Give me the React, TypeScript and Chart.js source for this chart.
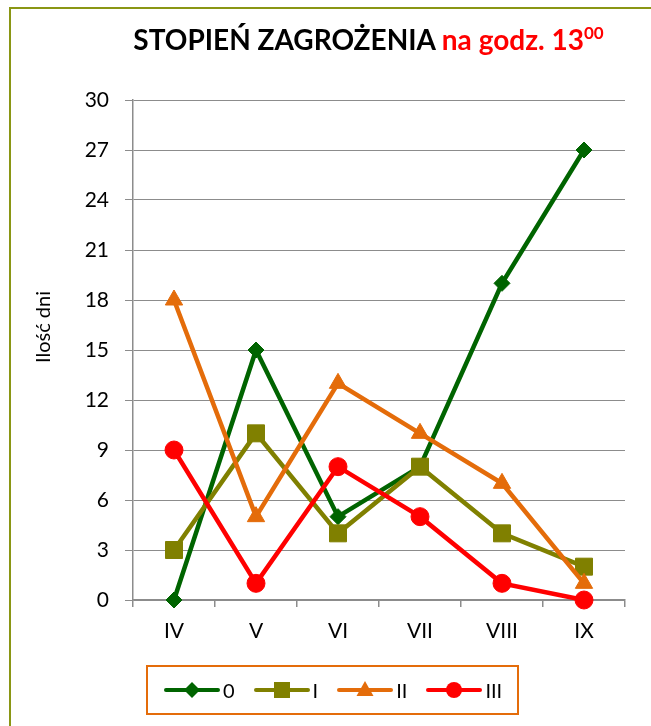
import React, { useEffect, useRef } from "react";
import { Chart, registerables } from "chart.js";

Chart.register(...registerables);

const categories = ["IV", "V", "VI", "VII", "VIII", "IX"];
const series0 = [0, 15, 5, 8, 19, 27];
const seriesI = [3, 10, 4, 8, 4, 2];
const seriesII = [18, 5, 13, 10, 7, 1];
const seriesIII = [9, 1, 8, 5, 1, 0];
const seriesNames = ["0", "I", "II", "III"];
const seriesColors = ["#006400", "#808000", "#E46C0A", "#FF0000"];
const pointStyles = ["rectRot", "rect", "triangle", "circle"];
const pointRadii = [8, 12, 10, 9];
const yMin = 0;
const yMax = 30;
const yStep = 3;

const FONT = "Lato, 'Open Sans', sans-serif";

function LegendIcon({ idx }: { idx: number }) {
  const c = seriesColors[idx];
  const cx = 28;
  const cy = 10;
  let marker: React.ReactNode = null;
  if (idx === 0) {
    marker = <polygon points={`${cx - 8},${cy} ${cx},${cy - 8} ${cx + 8},${cy} ${cx},${cy + 8}`} fill={c} />;
  } else if (idx === 1) {
    marker = <rect x={cx - 8} y={cy - 8} width={16} height={16} fill={c} />;
  } else if (idx === 2) {
    marker = <polygon points={`${cx},${cy - 9} ${cx + 8.5},${cy + 6} ${cx - 8.5},${cy + 6}`} fill={c} />;
  } else {
    marker = <circle cx={cx} cy={cy} r={8} fill={c} />;
  }
  return (
    <svg width={56} height={20} style={{ display: "block" }}>
      <line x1={2} y1={cy} x2={54} y2={cy} stroke={c} strokeWidth={4} strokeLinecap="round" />
      {marker}
    </svg>
  );
}

export default function App() {
  const canvasRef = useRef<HTMLCanvasElement | null>(null);

  useEffect(() => {
    document.documentElement.style.overflow = "hidden";
    document.body.style.overflow = "hidden";
    const canvas = canvasRef.current;
    if (!canvas) return;
    const dataArrays = [series0, seriesI, seriesII, seriesIII];
    const chart = new Chart(canvas, {
      type: "line",
      data: {
        labels: categories,
        datasets: dataArrays.map((d, i) => ({
          label: seriesNames[i],
          data: d,
          borderColor: seriesColors[i],
          backgroundColor: seriesColors[i],
          pointBackgroundColor: seriesColors[i],
          pointBorderColor: seriesColors[i],
          pointBorderWidth: 1,
          pointStyle: pointStyles[i] as any,
          pointRadius: pointRadii[i],
          borderWidth: 4.5,
          tension: 0,
          clip: false as any,
          order: 3 - i,
        })),
      },
      options: {
        responsive: false,
        animation: false,
        devicePixelRatio: 1,
        layout: { padding: { left: 0, right: 26, top: 91, bottom: 76 } },
        plugins: {
          legend: { display: false },
          title: { display: false },
          tooltip: { enabled: false },
        },
        scales: {
          x: {
            offset: true,
            grid: {
              offset: true,
              drawOnChartArea: false,
              drawTicks: true,
              tickLength: 7,
              color: "#8c8c8c",
              lineWidth: 1.5,
            },
            border: { display: true, color: "#8c8c8c", width: 1.5 },
            ticks: {
              color: "#000",
              padding: 12,
              font: { family: FONT, size: 21 },
            },
            afterFit: (scale: any) => {
              scale.height = 50;
            },
          },
          y: {
            min: yMin,
            max: yMax,
            ticks: {
              stepSize: yStep,
              color: "#000",
              padding: 16,
              font: { family: FONT, size: 21 },
            },
            grid: {
              color: "#8c8c8c",
              lineWidth: 1,
              drawTicks: true,
              tickLength: 8,
            },
            border: { display: true, color: "#8c8c8c", width: 1.5 },
            afterFit: (scale: any) => {
              scale.width = 122;
            },
          },
        },
      },
    });
    return () => chart.destroy();
  }, []);

  return (
    <div
      style={{
        position: "absolute",
        left: 9,
        top: 7,
        width: 700,
        height: 760,
        border: "2px solid #8a9614",
        boxSizing: "border-box",
        background: "#fff",
      }}
    >
      <canvas
        ref={canvasRef}
        width={640}
        height={717}
        style={{ position: "absolute", left: 0, top: 0, width: 640, height: 717 }}
      />
      <div
        style={{
          position: "absolute",
          left: 100,
          width: 515,
          top: 16,
          textAlign: "center",
          fontFamily: FONT,
          fontWeight: 700,
          fontSize: 28,
          lineHeight: "28px",
          whiteSpace: "nowrap",
        }}
      >
        <span style={{ color: "#000" }}>STOPIEŃ ZAGROŻENIA </span>
        <span style={{ color: "#FF0000" }}>
          na godz. 13
          <span style={{ fontSize: 17, position: "relative", top: -11 }}>00</span>
        </span>
      </div>
      <div
        style={{
          position: "absolute",
          left: 31 - 60,
          top: 318 - 12,
          width: 120,
          height: 24,
          lineHeight: "24px",
          textAlign: "center",
          transform: "rotate(-90deg)",
          fontFamily: FONT,
          fontSize: 20,
          color: "#000",
          whiteSpace: "nowrap",
        }}
      >
        Ilość dni
      </div>
      <div
        style={{
          position: "absolute",
          left: 135,
          top: 656,
          width: 373,
          height: 50,
          border: "2px solid #E46C0A",
          boxSizing: "border-box",
          display: "flex",
          alignItems: "center",
          paddingLeft: 16,
          gap: 19,
          fontFamily: FONT,
          fontSize: 20,
          color: "#000",
        }}
      >
        {seriesNames.map((n, i) => (
          <div key={n} style={{ display: "flex", alignItems: "center", gap: 3 }}>
            <LegendIcon idx={i} />
            <span>{n}</span>
          </div>
        ))}
      </div>
    </div>
  );
}
